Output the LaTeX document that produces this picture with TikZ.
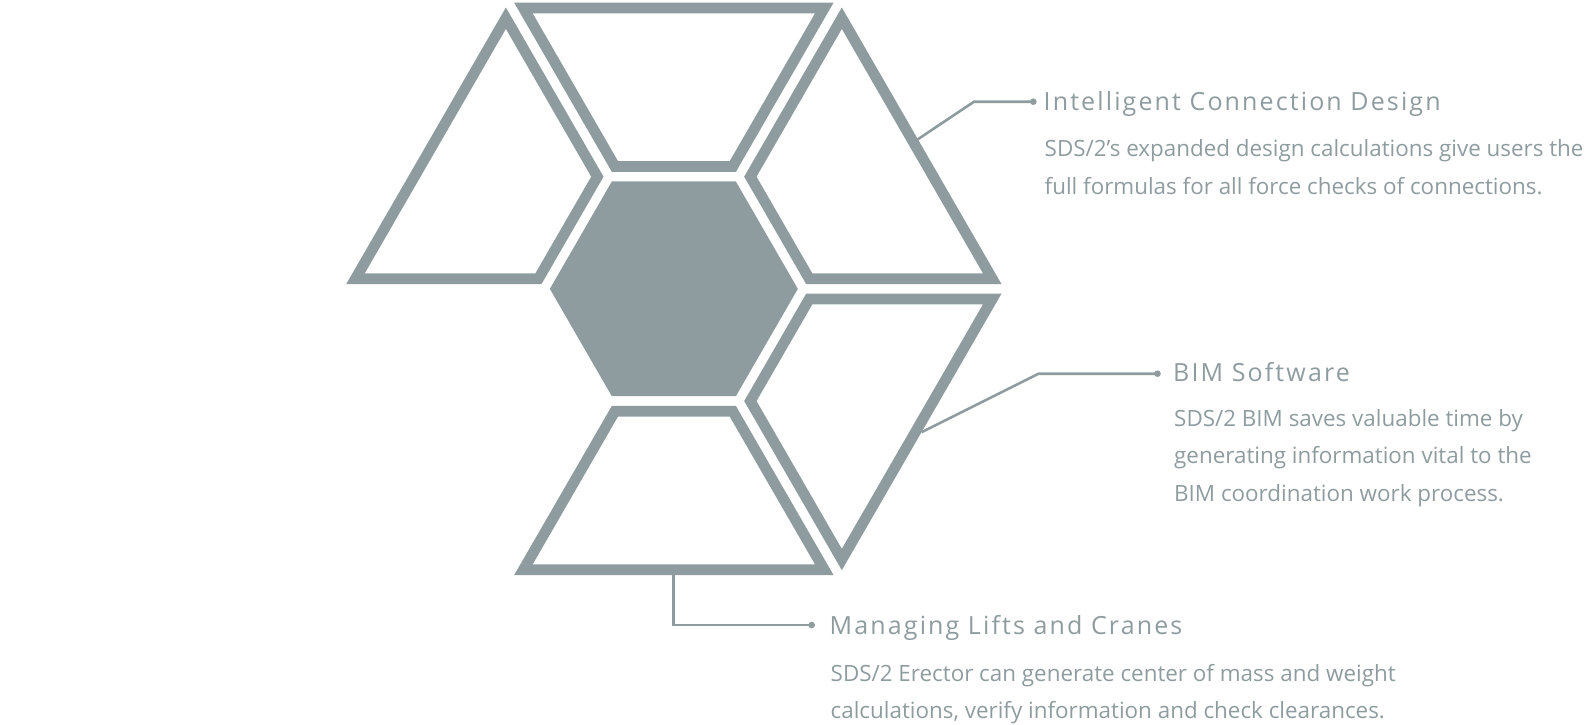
\documentclass[tikz,border=0pt]{standalone}
\usepackage{fontspec}
\setmainfont{Open Sans}
\newfontfamily\titlefont[LetterSpace=8.5]{Open Sans}
\definecolor{hexgray}{HTML}{8F9C9F}
\definecolor{txtgray}{HTML}{8F9C9F}
\tikzset{
  piece/.pic={
    \clip (-62,-116.99) -- (62,-116.99) -- (159.67,-286.15) -- (-159.67,-286.15) -- cycle;
    \draw[hexgray, line width=21.4pt, line join=miter]
      (-62,-116.99) -- (62,-116.99) -- (159.67,-286.15) -- (-159.67,-286.15) -- cycle;
  },
  conn/.style={draw=hexgray, line width=2.6pt},
  dotnode/.style={circle, fill=hexgray, inner sep=0pt, minimum size=6.6pt},
  titletext/.style={anchor=base west, inner sep=0pt, text=txtgray,
    font=\titlefont\fontsize{25}{30}\selectfont},
  bodytext/.style={anchor=base west, inner sep=0pt, align=left, text=txtgray,
    font=\fontsize{22.4}{37.4}\selectfont}
}
\begin{document}
\begin{tikzpicture}[x=1pt,y=-1pt]
\useasboundingbox (0,0) rectangle (1585,724);
\coordinate (C) at (673.85,288.85);
% pieces of the hexagon ring
\pic[rotate=0]    at (C) {piece};
\pic[rotate=60]   at (C) {piece};
\pic[rotate=-60]  at (C) {piece};
\pic[rotate=-120] at (C) {piece};
\pic[rotate=180]  at (C) {piece};
% central hexagon
\fill[hexgray] (797.85,288.85) -- (735.85,181.46) -- (611.85,181.46)
  -- (549.85,288.85) -- (611.85,396.24) -- (735.85,396.24) -- cycle;
% connector 1
\coordinate (s1) at (917.5,139.5);
\coordinate (e1) at (974,101.7);
\node[dotnode] (d1) at (1033.3,101.7) {};
\draw[conn] (s1) -- (e1) -- (d1.center);
\node[titletext] (t1) at (1043.5,110.3) {Intelligent Connection Design};
% anchor = baseline of the last line
\node[bodytext] (b1) at (1044.5,194.3) {SDS/2’s expanded design calculations give users the\\full formulas for all force checks of connections.};
% connector 2
\coordinate (s2) at (921.5,432.2);
\coordinate (e2) at (1038.5,373.7);
\node[dotnode] (d2) at (1157.5,373.7) {};
\draw[conn] (s2) -- (e2) -- (d2.center);
\node[titletext] (t2) at (1173,381.7) {BIM Software};
\node[bodytext] (b2) at (1174,501) {SDS/2 BIM saves valuable time by\\generating information vital to the\\BIM coordination work process.};
% connector 3
\coordinate (s3) at (673.5,574);
\coordinate (e3) at (673.5,625);
\node[dotnode] (d3) at (811.7,625) {};
\draw[conn] (s3) -- (e3) -- (d3.center);
\node[titletext] (t3) at (829.5,634) {Managing Lifts and Cranes};
\node[bodytext] (b3) at (830.5,718.4) {SDS/2 Erector can generate center of mass and weight\\calculations, verify information and check clearances.};
\end{tikzpicture}
\end{document}
